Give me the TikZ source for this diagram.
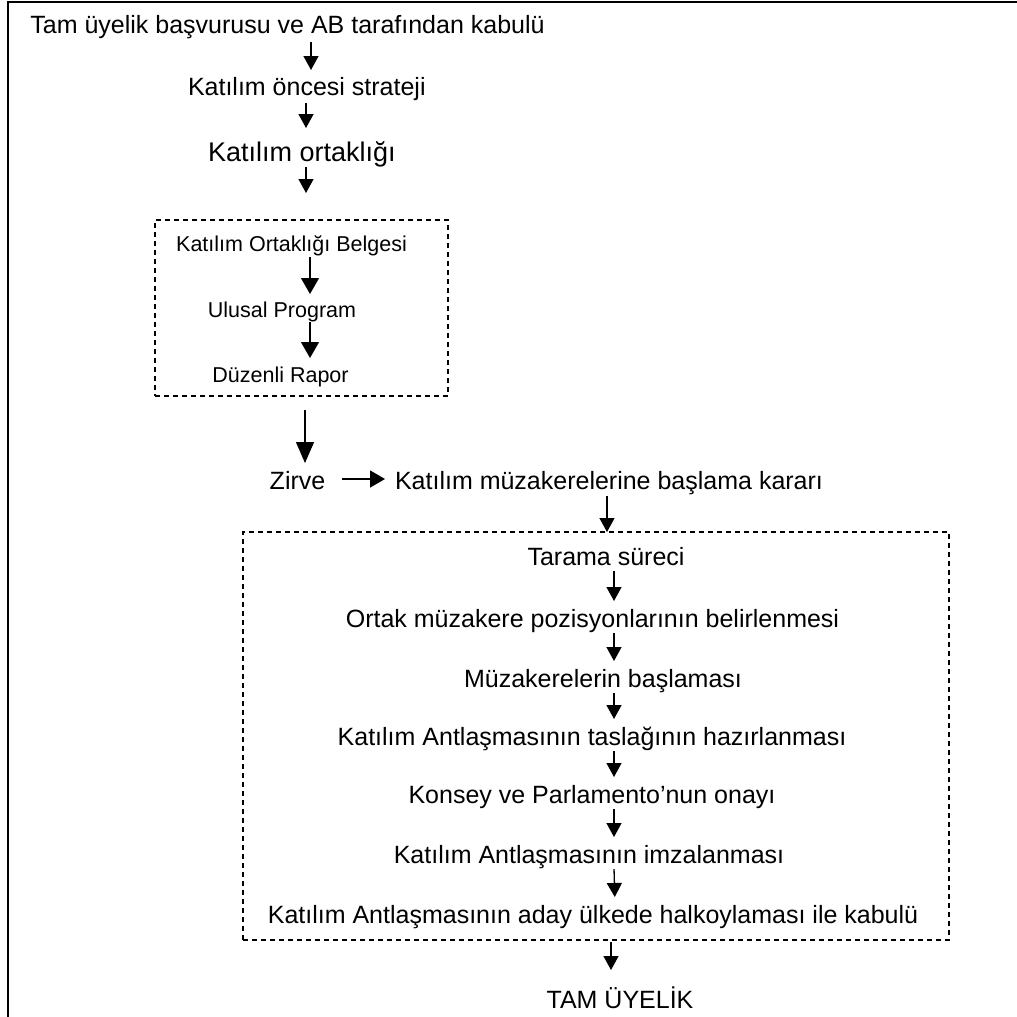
\documentclass[tikz,border=0pt]{standalone}
\usepackage{fontspec}
\setmainfont{Liberation Sans}
\usetikzlibrary{arrows.meta}
\begin{document}
\begin{tikzpicture}[x=1pt,y=-1pt,
  lbl/.style={inner sep=0pt, outer sep=0pt, anchor=base,
    font=\fontsize{25}{30}\selectfont, text height=18pt, text depth=5pt},
  lblsm/.style={lbl, font=\fontsize{21.5}{26}\selectfont, text height=15.5pt, text depth=4.5pt},
  lblbig/.style={lbl, font=\fontsize{27}{32}\selectfont, text height=19.5pt, text depth=5.5pt},
  arr/.style={line width=1.3pt, -{Triangle[width=15pt,length=14pt]}},
  arrbig/.style={line width=1.3pt, -{Triangle[width=18pt,length=16pt]}},
  dbox/.style={draw, line width=1.3pt, dash pattern=on 5pt off 4pt,
    inner sep=0pt, outer sep=0pt}]
\useasboundingbox (0,0) rectangle (1017,1017);
\clip (0,0) rectangle (1017,1017);

% outer frame (left and top edges)
\draw[line width=2pt] (8,1030) -- (8,1.5) -- (1030,1.5);

% dashed groups
\node[dbox, minimum width=293pt, minimum height=176pt] (kbox) at (301.5,308) {};
\node[dbox, minimum width=706pt, minimum height=408pt] (mbox) at (596,736) {};

% steps
\node[lbl] (t0) at (287.5,33) {Tam üyelik başvurusu ve AB tarafından kabulü};
\node[lbl] (t1) at (306.8,95) {Katılım öncesi strateji};
\node[lblbig] (t2) at (301.8,161) {Katılım ortaklığı};
\node[lblsm] (b1) at (291.5,251) {Katılım Ortaklığı Belgesi};
\node[lblsm] (b2) at (282,317) {Ulusal Program};
\node[lblsm] (b3) at (280.5,382) {Düzenli Rapor};
\node[lbl] (zr) at (297.5,489) {Zirve};
\node[lbl] (km) at (609,489) {Katılım müzakerelerine başlama kararı};
\node[lbl] (s1) at (606,565) {Tarama süreci};
\node[lbl] (s2) at (592.5,627) {Ortak müzakere pozisyonlarının belirlenmesi};
\node[lbl] (s3) at (603,687) {Müzakerelerin başlaması};
\node[lbl] (s4) at (592,745) {Katılım Antlaşmasının taslağının hazırlanması};
\node[lbl] (s5) at (592,803) {Konsey ve Parlamento’nun onayı};
\node[lbl] (s6) at (589,863) {Katılım Antlaşmasının imzalanması};
\node[lbl] (s7) at (593,923) {Katılım Antlaşmasının aday ülkede halkoylaması ile kabulü};
\node[lbl] (fin) at (620,1008) {TAM ÜYELİK};

% connectors
\draw[arr, shorten <=4pt, shorten >=7pt] ([xshift=23.5pt]t0.south) -- ([xshift=4.2pt]t1.north);
\draw[arr, shorten <=3pt, shorten >=13.5pt] ([xshift=-0.8pt]t1.south) -- ([xshift=4.2pt]t2.north);
\draw[arr, shorten <=0.5pt, shorten >=27pt] ([xshift=4.2pt]t2.south) -- ([xshift=4.5pt]kbox.north);
\draw[arrbig, shorten <=1.5pt, shorten >=7.5pt] ([xshift=18.5pt]b1.south) -- ([xshift=28pt]b2.north);
\draw[arrbig, shorten <=0.5pt, shorten >=8.5pt] ([xshift=28pt]b2.south) -- ([xshift=29.5pt]b3.north);
\draw[line width=1.3pt, -{Triangle[width=18pt,length=21pt]}, shorten <=14pt, shorten >=8pt]
  ([xshift=3.5pt]kbox.south) -- ([xshift=7.5pt]zr.north);
\draw[line width=1.3pt, -{Triangle[width=17pt,length=15pt]}, shorten <=17pt, shorten >=10pt]
  ([yshift=10pt]zr.base east) -- ([yshift=10pt]km.base west);
\draw[arr, shorten <=2pt] ([xshift=-2pt]km.south) -- ([xshift=11pt]mbox.north);
\draw[arr, shorten <=1pt, shorten >=8pt] ([xshift=8pt]s1.south) -- ([xshift=21.5pt]s2.north);
\draw[arr, shorten <=1pt, shorten >=8pt] ([xshift=21.5pt]s2.south) -- ([xshift=11pt]s3.north);
\draw[arr, shorten <=1pt, shorten >=8pt] ([xshift=11pt]s3.south) -- ([xshift=22pt]s4.north);
\draw[arr, shorten <=1pt, shorten >=8pt] ([xshift=22pt]s4.south) -- ([xshift=22pt]s5.north);
\draw[arr, shorten <=1pt, shorten >=8pt] ([xshift=22pt]s5.south) -- ([xshift=25pt]s6.north);
\draw[arr, shorten <=1pt, shorten >=8pt] ([xshift=25pt]s6.south) -- ([xshift=22pt]s7.north);
\draw[arr, shorten <=2pt, shorten >=20pt] ([xshift=15pt]mbox.south) -- ([xshift=-9pt]fin.north);
\end{tikzpicture}
\end{document}
